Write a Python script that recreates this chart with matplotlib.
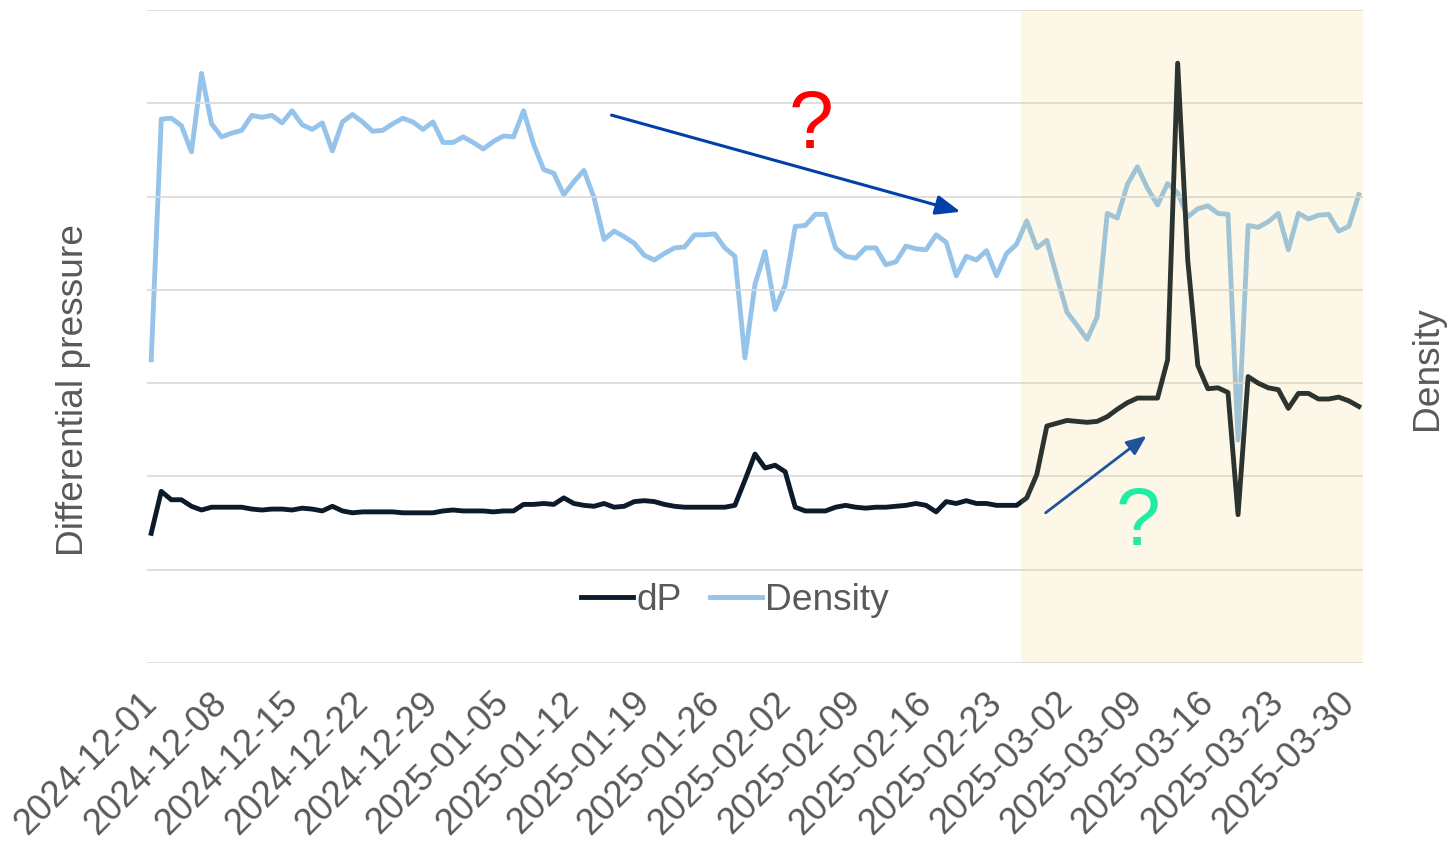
import matplotlib
matplotlib.use("Agg")
import matplotlib.pyplot as plt
import pandas as pd

plt.rcParams["font.family"] = ["Liberation Sans", "DejaVu Sans"]

# daily values 2024-12-01 .. 2025-03-31 (arbitrary units)
dates = pd.date_range("2024-12-01", "2025-03-31", freq="D")

dp = [
    13.9, 18.4, 17.5, 17.5, 16.8, 16.4, 16.7, 16.7, 16.7, 16.7,
    16.5, 16.4, 16.5, 16.5, 16.4, 16.6, 16.5, 16.3, 16.8, 16.3,
    16.1, 16.2, 16.2, 16.2, 16.2, 16.1, 16.1, 16.1, 16.1, 16.3,
    16.4, 16.3, 16.3, 16.3, 16.2, 16.3, 16.3, 17.0, 17.0, 17.1,
    17.0, 17.7, 17.1, 16.9, 16.8, 17.1, 16.7, 16.8, 17.3, 17.4,
    17.3, 17.0, 16.8, 16.7, 16.7, 16.7, 16.7, 16.7, 16.9, 19.6,
    22.4, 20.9, 21.2, 20.5, 16.7, 16.3, 16.3, 16.3, 16.7, 16.9,
    16.7, 16.6, 16.7, 16.7, 16.8, 16.9, 17.1, 16.9, 16.2, 17.3,
    17.1, 17.4, 17.1, 17.1, 16.9, 16.9, 16.9, 17.7, 20.2, 25.4,
    25.7, 26.0, 25.9, 25.8, 25.9, 26.4, 27.2, 27.9, 28.4, 28.4,
    28.4, 32.5, 64.3, 43.2, 31.9, 29.4, 29.5, 29.0, 15.9, 30.7,
    30.0, 29.5, 29.3, 27.3, 28.9, 28.9, 28.3, 28.3, 28.5, 28.1,
    27.5,
]

density = [
    0.650, 1.166, 1.168, 1.152, 1.096, 1.264, 1.156, 1.128, 1.136, 1.142,
    1.174, 1.170, 1.174, 1.158, 1.184, 1.154, 1.144, 1.158, 1.098, 1.160,
    1.176, 1.160, 1.140, 1.142, 1.156, 1.168, 1.160, 1.144, 1.160, 1.116,
    1.116, 1.128, 1.116, 1.102, 1.118, 1.130, 1.128, 1.184, 1.112, 1.058,
    1.050, 1.004, 1.032, 1.056, 0.998, 0.908, 0.926, 0.914, 0.900, 0.874,
    0.864, 0.878, 0.890, 0.892, 0.918, 0.918, 0.920, 0.890, 0.872, 0.654,
    0.812, 0.882, 0.758, 0.810, 0.936, 0.938, 0.962, 0.962, 0.890, 0.872,
    0.868, 0.890, 0.890, 0.854, 0.860, 0.894, 0.888, 0.886, 0.918, 0.902,
    0.830, 0.872, 0.864, 0.884, 0.830, 0.878, 0.898, 0.948, 0.890, 0.906,
    0.828, 0.752, 0.724, 0.694, 0.742, 0.964, 0.954, 1.026, 1.064, 1.018,
    0.982, 1.028, 1.008, 0.956, 0.974, 0.980, 0.964, 0.962, 0.478, 0.938,
    0.934, 0.946, 0.964, 0.886, 0.964, 0.952, 0.960, 0.962, 0.926, 0.936,
    1.004,
]

tick_dates = pd.date_range("2024-12-01", "2025-03-30", freq="7D")
tick_labels = [d.strftime("%Y-%m-%d") for d in tick_dates]
focus_start = pd.Timestamp("2025-02-25 10:00")

text_grey = "#595959"
dp_color = "#0c1b29"
dens_color = "#95c3ea"
fs = 26.7

fig = plt.figure(figsize=(14.48, 8.46), dpi=100)
ax = fig.add_axes([147 / 1448, 1 - 663 / 846, 1216 / 1448, 653 / 846])
ax2 = ax.twinx()

ax2.plot(dates, density, color=dens_color, lw=3.5, label="Density")
ax.plot(dates, dp, color=dp_color, lw=3.5, label="dP")

# dP on top of density
ax.set_zorder(ax2.get_zorder() + 1)
ax.patch.set_visible(False)

x_end = dates[-1] + pd.Timedelta(hours=10)
ax.set_xlim(dates[0] - pd.Timedelta(hours=10), x_end)
ax.set_ylim(0, 70)
ax2.set_ylim(0, 1.4)
ax.set_yticks(range(0, 71, 10))
ax.set_yticklabels([])
ax2.set_yticks([])
ax.grid(axis="y", color="#d9d9d9", lw=1.2)
ax.tick_params(axis="y", length=0)
ax.set_xticks(tick_dates)
ax.set_xticklabels(tick_labels, rotation=45, ha="right", va="center",
                   rotation_mode="anchor", fontsize=26, color=text_grey)
ax.tick_params(axis="x", length=0, pad=25)
for a in (ax, ax2):
    for s in a.spines.values():
        s.set_visible(False)

ax.set_ylabel("Differential pressure", fontsize=fs, color=text_grey)
ax.yaxis.set_label_coords(-0.046, 0.418)
ax2.set_ylabel("Density", fontsize=fs, color=text_grey)
ax2.yaxis.set_label_coords(1.039, 0.452)

# annotations
ax.annotate("", xy=(0.669, 0.691), xytext=(0.382, 0.839), xycoords="axes fraction",
            arrowprops=dict(arrowstyle="-|>,head_length=0.75,head_width=0.3",
                            color="#0040a8", lw=2.2, shrinkA=0, shrinkB=0,
                            mutation_scale=20), zorder=5)
ax.annotate("", xy=(0.822, 0.348), xytext=(0.739, 0.230), xycoords="axes fraction",
            arrowprops=dict(arrowstyle="-|>,head_length=0.6,head_width=0.25",
                            color="#0040a8", lw=2.0, shrinkA=0, shrinkB=0,
                            mutation_scale=20), zorder=5)
ax.text(0.546, 0.789, "?", transform=ax.transAxes, ha="center", va="baseline",
        fontsize=58, color="#ff0000", zorder=5)
ax.text(0.815, 0.181, "?", transform=ax.transAxes, ha="center", va="baseline",
        fontsize=58, color="#00f2b0", zorder=5)

# translucent highlight over the last weeks
ax.axvspan(focus_start, x_end, color=(240 / 255, 205 / 255, 91 / 255),
           alpha=0.14, lw=0, zorder=10)

h1, l1 = ax.get_legend_handles_labels()
h2, l2 = ax2.get_legend_handles_labels()
leg = ax.legend(h1 + h2, l1 + l2, loc="center", bbox_to_anchor=(0.4836, 0.096),
                ncol=2, frameon=False, fontsize=fs, handlelength=1.4,
                handletextpad=0.1, columnspacing=0.75)
for t in leg.get_texts():
    t.set_color(text_grey)

fig.savefig("out.png", dpi=100)
